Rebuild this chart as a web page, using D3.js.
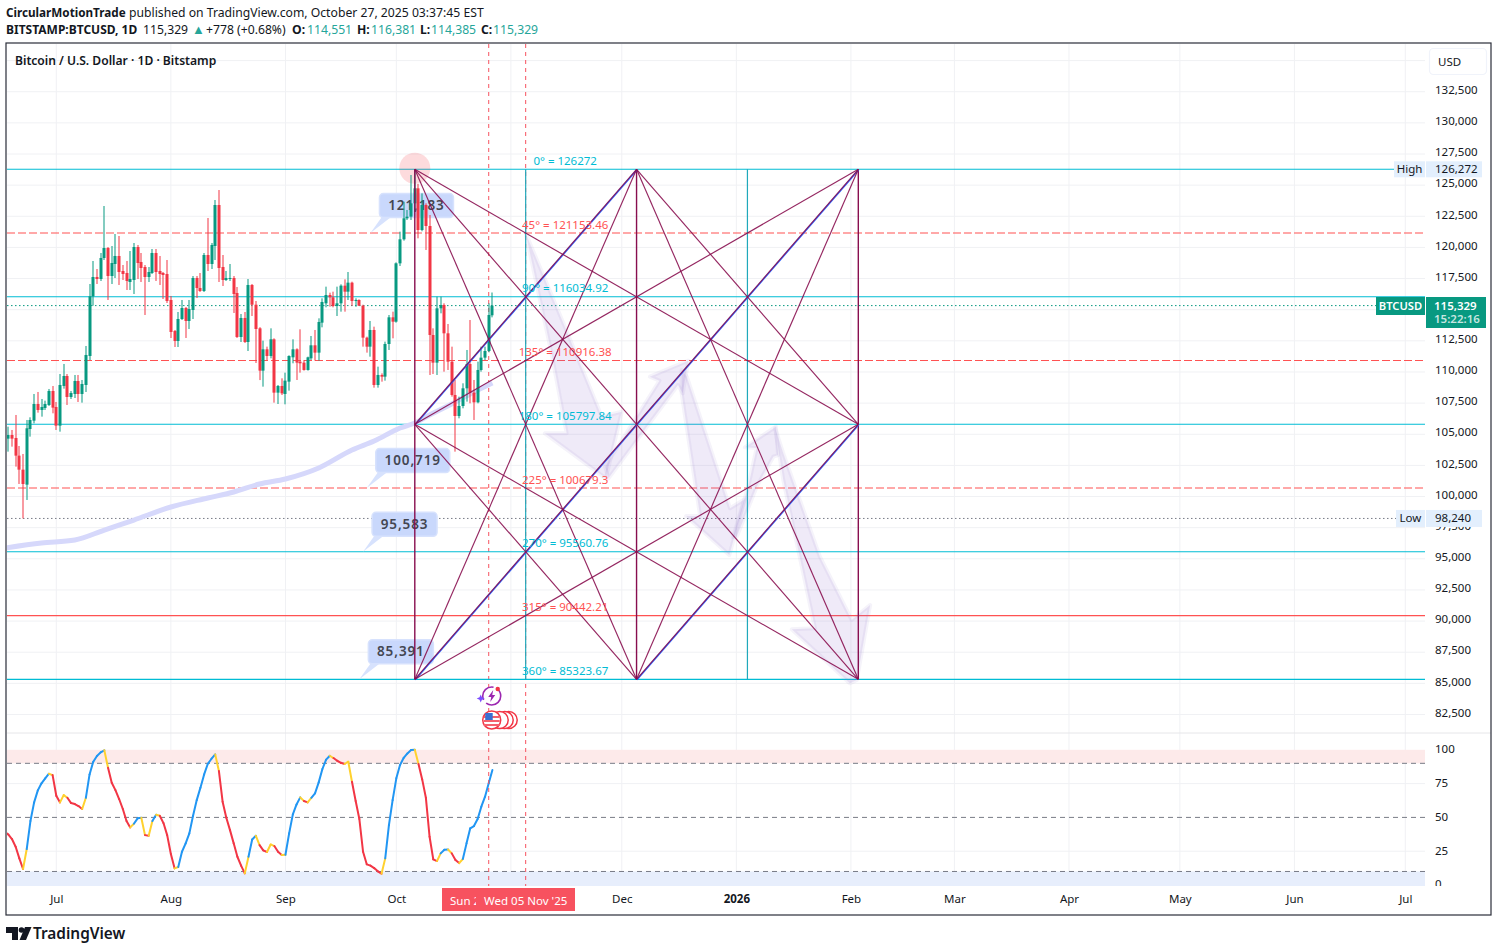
<!DOCTYPE html>
<html lang="en">

<head>
  <meta charset="utf-8">
  <title>BTCUSD Gann Square</title>
  <script src="https://d3js.org/d3.v7.min.js"></script>
  <style>
    html, body { margin: 0; background: #fff; }
    svg { display: block; }
    text { font-family: "Noto Sans", sans-serif; }
  </style>
</head>

<body>
  <svg width="1498" height="952"></svg>
  <script>
    // candles, day by day from Jun 18 2025 to Oct 27 2025
    const candleStart = Date.UTC(2025, 5, 18);
    const openP = [
      104647, 104942, 104700, 103283, 102158, 100954, 105423, 106092, 107430, 106949, 107110, 107350, 108474,
      107190, 105691, 108875, 109678, 107992, 108233, 109277, 108233, 108956, 111284, 116074, 117626, 117465, 119151, 119954, 117706, 118670, 119312, 118108, 117947, 117225, 117385, 120034, 118830, 118429, 117626, 117947, 119553, 118108, 117947, 117867,
      115780, 113291, 112488, 114254, 115137, 114094, 114977, 117546, 116743, 116502, 119392, 118670, 120115, 123406, 118429, 117385, 117465, 117546, 116342, 112809, 114335, 112408, 116984, 115400, 113505, 110107, 111820, 111284, 112622, 108340, 108876,
      108233, 109224, 111177, 111820, 110829, 110749, 110160, 111097, 112141, 111552, 113960, 115512, 116181, 115994, 115298, 115512, 116930, 116448, 117171, 115699, 115780, 115325, 112756, 112033, 113371, 108956, 109759, 109625, 112247, 114388,
      114040, 118723, 120650, 122336, 122470, 123540, 124744, 121399, 123406, 121720, 112970, 110749, 115111, 115378, 113104, 110829, 108153, 106467, 107270, 108688, 110642, 108340, 107564, 110160, 111150, 111685, 114551
    ];
    const highP = [
      105611, 105343, 106547, 104058, 103416, 106146, 106360, 108233, 108394, 107832, 107698, 108635, 108875,
      107591, 109839, 110642, 109839, 108474, 109759, 109759, 109357, 112087, 117064, 118911, 118268, 119553, 123326, 120034, 120115, 121078, 120918, 118589, 118911, 119713, 120356, 120195, 119553, 118589, 118429, 119874, 119874, 119312, 118027, 118991,
      116101, 113371, 114816, 115780, 115217, 115780, 117706, 117706, 117947, 119553, 122363, 120356, 123808, 124610, 119392, 118108, 118670, 117706, 116823, 114655, 114816, 117465, 117064, 115700, 113600, 112515, 112034, 113505, 112702, 108956, 109491,
      109946, 111338, 112622, 111900, 113425, 110963, 111231, 112890, 113372, 114308, 115914, 116850, 116368, 116448, 116850, 117037, 117439, 118027, 117250, 115914, 115833, 115400, 112836, 114094, 113639, 110428, 109892, 112435, 114575, 114843,
      118800, 121265, 123674, 123005, 125815, 126272, 125100, 124343, 123540, 122603, 113505, 116047, 116047, 115512, 113853, 112033, 109357, 108019, 109090, 111766, 114174, 109357, 110829, 112033, 112033, 115512, 116381
    ];
    const lowP = [
      103604, 104005, 102400, 101008, 98240, 99724, 104808, 105878, 106735, 106414, 106949, 107270, 106681,
      105343, 105209, 108661, 107350, 107832, 107912, 107591, 107538, 108394, 110963, 115325, 117064, 117305, 118991, 115780, 117064, 117546, 116984, 117385, 116582, 116582, 116261, 117465, 117225, 114575, 117225, 117867, 117305, 116984, 115860, 115539,
      112729, 112006, 112006, 114174, 112729, 113451, 114254, 115940, 116422, 116422, 118108, 118268, 118991, 117225, 116904, 117305, 117305, 114736, 112729, 112408, 112328, 111685, 114495, 110721, 109350, 108822, 110963, 111097, 107538, 107430, 108153,
      107404, 108501, 110696, 109357, 109946, 110107, 110107, 110963, 110910, 110910, 113585, 115190, 115244, 115191, 114495, 114843, 114843, 115780, 115298, 115244, 115298, 112033, 111552, 111230, 108742, 108742, 109223, 109304, 111766, 112702,
      113960, 118509, 120543, 122202, 122202, 122871, 120730, 121300, 119794, 109759, 109839, 109759, 114709, 110026, 110160, 108019, 103604, 106280, 107083, 107618, 107484, 106146, 107484, 110026, 110963, 111578, 114385
    ];
    const closeP = [
      104942, 104647, 103283, 102158, 101008, 105477, 106146, 107430, 106949, 107190, 107430, 108474, 107136,
      105691, 108956, 109678, 107992, 108314, 109277, 108233, 109036, 111364, 116074, 117626, 117465, 119151, 119954, 117706, 118750, 119312, 118027, 117867, 117305, 117465, 120034, 118750, 118349, 117626, 118027, 119553, 118027, 117867, 117787, 115699,
      113211, 112488, 114254, 115137, 114094, 115057, 117546, 116743, 116502, 119392, 118670, 120195, 123406, 118349, 117385, 117546, 117546, 116261, 112809, 114335, 112408, 116984, 115400, 113451, 110107, 111820, 111284, 112622, 108340, 108876, 108287,
      109304, 111284, 111820, 110749, 110696, 110160, 111177, 112141, 111552, 114014, 115619, 116181, 115994, 115298, 115512, 116930, 116448, 117171, 115699, 115780, 115325, 112756, 112033, 113371, 108956, 109759, 109625, 112247, 114388, 114040,
      118723, 120650, 122336, 122470, 123540, 124744, 121399, 123406, 121720, 112970, 110749, 115111, 115378, 113104, 110829, 108153, 106467, 107270, 108688, 110642, 108340, 107564, 110160, 111150, 111685, 114575, 115329
    ];

    // stochastic line, starts one day before the candles (Jun 17)
    const stochStart = Date.UTC(2025, 5, 17);
    const stochK = [
      39.5, 37.4, 34, 28.3, 19.7, 11.8, 26.6, 47.3, 61.1, 70, 75.2, 78.9, 82.3, 81.3,
      66, 61.1, 66.5, 64.5, 60.6, 59.9, 58.4, 56.2, 64.5, 81.8, 91.2, 95.4, 98.1, 99.6, 86.7, 75.6, 70.2, 63.6, 56.2, 47.3, 42.6, 45.3, 49.3, 49.8, 36.9, 36.4, 47.3, 52, 51.2, 45.8, 36.9,
      22.9, 12.3, 13.3, 24.6, 30.8, 38.2, 51.2, 62.8, 72, 81.8, 89.7, 93.4, 96.6, 84.3, 61.6, 49.8, 40.6, 30.8, 20.9, 14.3, 8.6, 20.9, 33.7, 36.4, 29.5, 25.6, 24.4, 30, 28.8, 24.6, 22.2,
      22.4, 38.2, 52.2, 59.6, 64.8, 62.1, 61.1, 64.5, 67.8, 75.9, 85.8, 92.7, 95.6, 93.9, 91.9, 90.4, 89.5, 91.2, 76.4, 62.1, 48.8, 24.6, 15.3, 14.3, 12.5, 10.1, 8.3, 19.7, 44.3, 62.8,
      78.9, 88.7, 94.1, 97.3, 99.8, 100, 89.5, 78.1, 64.5, 35.7, 19, 17.7, 23.4, 26.1, 26.3, 23.4, 18.5, 16.2, 19.2, 30.8, 41.9, 43.6, 48.8, 57.9, 65.3, 75.2, 85
    ];

    // moving average, sampled
    const maDates = ["2025-06-17", "2025-06-27", "2025-07-06", "2025-07-14", "2025-07-22", "2025-08-01", "2025-08-11", "2025-08-18", "2025-08-25", "2025-09-01", "2025-09-10", "2025-09-19", "2025-09-25", "2025-10-02", "2025-10-06", "2025-10-10", "2025-10-17", "2025-10-22", "2025-10-27"];
    const maValues = [95866, 96268, 96508, 97312, 98114, 99158, 99881, 100362, 101005, 101406, 102289, 103735, 104457, 105501, 105903, 106545, 107588, 108391, 109114];

    // gann square
    const gannAngles = [0, 45, 90, 135, 180, 225, 270, 315, 360];
    const gannLevels = [126272, 121153.46, 116034.92, 110916.38, 105797.84, 100679.3, 95560.76, 90442.21, 85323.67];
    const gannColumns = ["2025-10-06", "2025-11-05", "2025-12-05", "2026-01-04", "2026-02-03"];
    // [column, level] pairs by index into the two lists above
    const gannThin = [
      [[0, 0], [4, 8]], [[0, 0], [4, 4]], [[0, 0], [2, 8]],
      [[0, 8], [4, 4]], [[0, 8], [2, 0]],
      [[4, 0], [0, 4]], [[4, 0], [2, 8]],
      [[4, 8], [0, 4]], [[4, 8], [2, 0]],
      [[0, 4], [2, 8]], [[4, 4], [2, 0]]
    ];
    const gannThick = [[[0, 8], [4, 0]], [[0, 4], [2, 0]], [[2, 8], [4, 4]]];

    // callouts
    const calloutText = ["121,183", "100,719", "95,583", "85,391"];
    const calloutDates = ["2025-09-24", "2025-09-23", "2025-09-22", "2025-09-21"];
    const calloutPrices = [121153, 100679, 95560, 85323];

    // hand drawn arrows: [days after Jul 1 2025, price]
    const arrowShapes = [
      [[127, 121134], [137.6, 113634], [147.6, 106408], [153, 106810], [148.7, 101462], [132.2, 105075], [138.1, 105075], [134, 111499]],
      [[148.5, 102394], [163.2, 109299], [160.6, 109620], [171, 110904], [169.5, 108287], [168.2, 108954], [149.4, 101462]],
      [[169.2, 110158], [170.6, 109620], [182.3, 99054], [186.3, 99776], [182.1, 95304], [170.4, 98436], [174.2, 98436], [169.2, 108287]],
      [[183.1, 96750], [187.2, 100788], [189.5, 103895], [186.3, 103951], [194.7, 105605], [195.3, 103333], [194, 103197], [189.5, 100788], [184.1, 96774]],
      [[194.5, 105477], [196.7, 103470], [206.6, 95168], [215.2, 90086], [220.2, 91290], [216.6, 85268], [214.7, 85003], [199, 89339], [205.3, 89419], [196.7, 101326]]
    ];

    // axes
    const priceGrid = d3.range(82500, 137500, 2500);
    const priceTicks = priceGrid.filter((p) => p !== 115000 && p !== 135000);
    const stochTicks = [100, 75, 50, 25, 0];
    const stochBands = [90, 50, 10];
    const monthTicks = d3.utcMonth.range(new Date(Date.UTC(2025, 6, 1)), new Date(Date.UTC(2026, 6, 2)));
    // Nov sits under the crosshair date tags
    const monthLabels = monthTicks.filter((d) => d.getUTCMonth() !== 10);

    const lastPrice = 115329, highPrice = 126272, lowPrice = 98240;
    const crossDates = ["2025-10-26", "2025-11-05"];

    const upColor = "#089981", downColor = "#f23645";
    const cyan = "#00bcd4", red = "#ff5252", magenta = "#880e4f";
    const gridColor = "#f0f1f4";
    const plotLeft = 7, plotRight = 1425, plotTop = 44, paneSplit = 733, plotBottom = 886;

    const svg = d3.select("svg");
    const day = (s) => new Date(s + "T00:00:00Z");

    const x = d3.scaleUtc()
      .domain([new Date(Date.UTC(2025, 6, 1)), new Date(Date.UTC(2026, 6, 1))])
      .range([56.3, 1405.3]);
    const y = d3.scaleLinear().domain([82500, 132500]).range([714.5, 91.73]);
    const yStoch = d3.scaleLinear().domain([0, 100]).range([885, 749.8]);
    const xDays = (d) => x(new Date(Date.UTC(2025, 6, 1) + d * 864e5));

    const defs = svg.append("defs");
    defs.append("clipPath").attr("id", "plot").append("rect")
      .attr("x", plotLeft).attr("y", plotTop).attr("width", plotRight - plotLeft).attr("height", paneSplit - plotTop);
    defs.append("clipPath").attr("id", "pane").append("rect")
      .attr("x", plotLeft).attr("y", paneSplit).attr("width", plotRight - plotLeft).attr("height", plotBottom - paneSplit);
    defs.append("clipPath").attr("id", "axisClip").append("rect")
      .attr("x", plotRight).attr("y", plotTop).attr("width", 66).attr("height", plotBottom - plotTop);
    defs.append("clipPath").attr("id", "sunClip").append("rect")
      .attr("x", 442).attr("y", 888).attr("width", 34).attr("height", 23);

    // grid
    const grid = svg.append("g").attr("stroke", gridColor).attr("stroke-width", 1);
    grid.selectAll(".v").data(monthTicks).enter().append("line")
      .attr("x1", (d) => x(d)).attr("x2", (d) => x(d)).attr("y1", plotTop).attr("y2", plotBottom);
    grid.selectAll(".h").data(priceGrid).enter().append("line")
      .attr("x1", plotLeft).attr("x2", plotRight).attr("y1", (d) => y(d)).attr("y2", (d) => y(d));
    grid.selectAll(".s").data([75, 25]).enter().append("line")
      .attr("x1", plotLeft).attr("x2", plotRight).attr("y1", (d) => yStoch(d)).attr("y2", (d) => yStoch(d));
    svg.append("line").attr("x1", plotLeft).attr("x2", 1491).attr("y1", paneSplit).attr("y2", paneSplit)
      .attr("stroke", "#e6e6e9");

    // stoch pane
    svg.append("rect").attr("x", plotLeft).attr("width", plotRight - plotLeft)
      .attr("y", yStoch(100)).attr("height", yStoch(90) - yStoch(100)).attr("fill", "#fdeaea");
    svg.append("rect").attr("x", plotLeft).attr("width", plotRight - plotLeft)
      .attr("y", yStoch(10)).attr("height", yStoch(0) - yStoch(10) + 1).attr("fill", "#e7eefc");
    svg.selectAll(".band").data(stochBands).enter().append("line")
      .attr("x1", plotLeft).attr("x2", plotRight).attr("y1", (d) => yStoch(d)).attr("y2", (d) => yStoch(d))
      .attr("stroke", "#787b86").attr("stroke-dasharray", "5 4");

    const stochPts = stochK.map((v, i) => ({ x: x(new Date(stochStart + i * 864e5)), y: yStoch(v), v }));
    const stochSeg = d3.pairs(stochPts).map(([a, b], i, all) => {
      const rising = b.v >= a.v;
      const prevRising = i > 0 ? all[i - 1][1].v >= all[i - 1][0].v : rising;
      return { a, b, color: rising !== prevRising ? "#ffd12e" : rising ? "#2196f3" : "#f23645" };
    });
    svg.append("g").attr("clip-path", "url(#pane)")
      .selectAll("line").data(stochSeg).enter().append("line")
      .attr("x1", (d) => d.a.x).attr("y1", (d) => d.a.y).attr("x2", (d) => d.b.x).attr("y2", (d) => d.b.y)
      .attr("stroke", (d) => d.color).attr("stroke-width", 2).attr("stroke-linecap", "round");

    // crosshair style verticals, the square's cyan column covers the middle of the second one
    svg.selectAll(".cross").data(crossDates).enter().append("line")
      .attr("x1", (d) => x(day(d))).attr("x2", (d) => x(day(d))).attr("y1", plotTop).attr("y2", plotBottom)
      .attr("stroke", "#f7525f").attr("stroke-dasharray", "4 4");

    // main plot
    const plot = svg.append("g").attr("clip-path", "url(#plot)");

    // level lines
    plot.selectAll(".lvl").data(gannLevels).enter().append("line")
      .attr("x1", plotLeft).attr("x2", plotRight).attr("y1", (d) => y(d)).attr("y2", (d) => y(d))
      .attr("stroke", (d, i) => i % 2 === 0 ? cyan : red).attr("stroke-width", 1.1)
      .attr("stroke-dasharray", (d, i) => i % 2 === 1 && i !== 7 ? "8 3" : null);

    // last price and low
    plot.append("line").attr("x1", plotLeft).attr("x2", 1376).attr("y1", y(lastPrice)).attr("y2", y(lastPrice))
      .attr("stroke", upColor).attr("stroke-dasharray", "1.5 2.5");
    plot.append("line").attr("x1", plotLeft).attr("x2", 1396).attr("y1", y(lowPrice)).attr("y2", y(lowPrice))
      .attr("stroke", "#787b86").attr("stroke-dasharray", "1.5 2.5");

    // peak circle
    plot.append("circle").attr("cx", x(day(gannColumns[0]))).attr("cy", y(126272) - 1).attr("r", 15.5)
      .attr("fill", "#f23645").attr("fill-opacity", 0.18);

    // ma
    const maLine = d3.line().x((d) => x(day(d.t))).y((d) => y(d.v)).curve(d3.curveMonotoneX);
    plot.append("path").datum(maDates.map((t, i) => ({ t, v: maValues[i] })))
      .attr("d", maLine).attr("fill", "none").attr("stroke", "#d6d8fb").attr("stroke-width", 5);

    // callouts
    const callouts = plot.selectAll(".callout").data(calloutText).enter().append("g");
    callouts.each(function (txt, i) {
      const tipX = x(day(calloutDates[i])), tipY = y(calloutPrices[i]);
      const w = i < 2 ? 74 : 65;
      const bx = tipX + 9, by = tipY - 39.5;
      const g = d3.select(this).attr("fill", "#c9d8fc").attr("stroke", "#d7e2fd").attr("stroke-width", 1.5);
      g.append("path").attr("d", `M${bx + 2},${by + 24}L${tipX},${tipY}L${bx + 11},${by + 24}Z`).attr("stroke", "none").attr("fill", "#d7e2fd");
      g.append("rect").attr("x", bx).attr("y", by).attr("width", w).attr("height", 24).attr("rx", 4);
      g.append("text").attr("x", bx + w / 2).attr("y", by + 16.5).attr("text-anchor", "middle")
        .attr("fill", "#434651").attr("stroke", "none").attr("font-size", 13.5).attr("font-weight", 600)
        .attr("letter-spacing", 0.9).text(txt);
    });

    // candles
    const candles = openP.map((o, i) => ({ t: new Date(candleStart + i * 864e5), o, h: highP[i], l: lowP[i], c: closeP[i] }));
    const candle = plot.append("g").selectAll("g").data(candles).enter().append("g")
      .attr("fill", (d) => d.c >= d.o ? upColor : downColor);
    candle.append("rect").attr("x", (d) => Math.round(x(d.t)) - 0.5).attr("width", 1)
      .attr("y", (d) => y(d.h)).attr("height", (d) => y(d.l) - y(d.h));
    candle.append("rect").attr("x", (d) => Math.round(x(d.t)) - 1.5).attr("width", 3)
      .attr("y", (d) => y(Math.max(d.o, d.c))).attr("height", (d) => Math.max(1, y(Math.min(d.o, d.c)) - y(Math.max(d.o, d.c))));

    // arrows
    plot.selectAll(".arrow").data(arrowShapes).enter().append("polygon")
      .attr("points", (d) => d.map((p) => [xDays(p[0]), y(p[1])].join(",")).join(" "))
      .attr("fill", "#9575cd").attr("fill-opacity", 0.15)
      .attr("stroke", "#9575cd").attr("stroke-opacity", 0.09).attr("stroke-width", 4).attr("stroke-linejoin", "round");

    // gann verticals
    const colX = (c) => x(day(gannColumns[c]));
    plot.selectAll(".gv").data([0, 1, 2, 3, 4]).enter().append("line")
      .attr("x1", colX).attr("x2", colX).attr("y1", y(gannLevels[0])).attr("y2", y(gannLevels[8]))
      .attr("stroke", (d) => d % 2 === 0 ? magenta : "#1fa9bb")
      .attr("stroke-width", (d) => d % 2 === 0 ? 1.4 : 1.2);

    const gannPos = ([c, l]) => [colX(c), y(gannLevels[l])];
    plot.selectAll(".blue").data(gannThick).enter().append("line")
      .attr("x1", (d) => gannPos(d[0])[0] + 0.4).attr("y1", (d) => gannPos(d[0])[1] + 0.4)
      .attr("x2", (d) => gannPos(d[1])[0] + 0.4).attr("y2", (d) => gannPos(d[1])[1] + 0.4)
      .attr("stroke", "#2962ff").attr("stroke-width", 1.5);
    plot.selectAll(".diag").data(gannThin.concat(gannThick)).enter().append("line")
      .attr("x1", (d) => gannPos(d[0])[0]).attr("y1", (d) => gannPos(d[0])[1])
      .attr("x2", (d) => gannPos(d[1])[0]).attr("y2", (d) => gannPos(d[1])[1])
      .attr("stroke", magenta).attr("stroke-opacity", 0.9).attr("stroke-width", 1.15);

    // level labels
    plot.selectAll(".lvlText").data(gannLevels).enter().append("text")
      .attr("x", colX(1) + 39.5).attr("y", (d) => y(d) - 4.5).attr("text-anchor", "middle")
      .attr("font-size", 11.5).attr("fill", (d, i) => i % 2 === 0 ? cyan : red)
      .text((d, i) => `${gannAngles[i]}° = ${d}`);

    // marks under the chart
    const iconX = x(day(crossDates[0])) + 3;
    const icons = plot.append("g").attr("transform", `translate(${iconX},696)`);
    icons.append("circle").attr("r", 9).attr("fill", "#fff").attr("stroke", "#9c27b0").attr("stroke-width", 1.6)
      .attr("stroke-dasharray", "20 4");
    icons.append("path").attr("d", "M1.5,-6L-3.5,1H-0.5L-1.5,6L3.5,-1H0.5Z").attr("fill", "#9c27b0");
    icons.append("circle").attr("cx", 6).attr("cy", -7).attr("r", 2.2).attr("fill", "#f23645");
    icons.append("path").attr("d", "M-11,-1.5l1.2,2.8 2.8,1.2 -2.8,1.2 -1.2,2.8 -1.2,-2.8 -2.8,-1.2 2.8,-1.2Z").attr("fill", "#7c4dff");

    const flags = plot.append("g").attr("transform", `translate(${iconX},720)`);
    [17, 13, 8].forEach((dx) => flags.append("circle").attr("cx", dx).attr("r", 8.5)
      .attr("fill", "#fff").attr("stroke", "#f23645").attr("stroke-width", 1.5));
    flags.append("circle").attr("r", 9).attr("fill", "#fff").attr("stroke", "#f23645").attr("stroke-width", 1.5);
    [-4, 0, 4].forEach((dy) => flags.append("rect").attr("x", -8).attr("y", dy).attr("width", 16).attr("height", 2).attr("fill", "#f4606c"));
    flags.append("rect").attr("x", -6.5).attr("y", -7).attr("width", 7.5).attr("height", 7).attr("fill", "#3b6fd1");

    // price axis
    const yAxis = d3.axisRight(y).tickValues(priceTicks).tickSize(0).tickPadding(10).tickFormat(d3.format(","));
    const yG = svg.append("g").attr("transform", `translate(${plotRight},0)`).call(yAxis);
    yG.select(".domain").remove();
    yG.selectAll("text").attr("font-size", 11.5).attr("fill", "#131722").attr("dy", "0.15em");

    const sAxis = d3.axisRight(yStoch).tickValues(stochTicks).tickSize(0).tickPadding(10);
    const sG = svg.append("g").attr("clip-path", "url(#axisClip)").append("g").attr("transform", `translate(${plotRight},0)`).call(sAxis);
    sG.select(".domain").remove();
    sG.selectAll("text").attr("font-size", 11.5).attr("fill", "#131722").attr("dy", "0.25em");

    // time axis
    const xAxis = d3.axisBottom(x).tickValues(monthLabels).tickSize(0).tickPadding(0)
      .tickFormat((d) => d.getUTCMonth() === 0 ? d3.utcFormat("%Y")(d) : d3.utcFormat("%b")(d));
    const xG = svg.append("g").attr("transform", "translate(0,895)").call(xAxis);
    xG.select(".domain").remove();
    xG.selectAll("text").attr("font-size", 11.5).attr("fill", "#131722")
      .attr("font-weight", (d) => d.getUTCMonth() === 0 ? 700 : 400);

    // crosshair date tags: the later one hides most of the earlier one
    svg.append("rect").attr("x", 442).attr("y", 888).attr("width", 40).attr("height", 23).attr("fill", "#f7525f");
    svg.append("text").attr("x", 450).attr("y", 905).attr("clip-path", "url(#sunClip)")
      .attr("font-size", 11.5).attr("fill", "#fff").text("Sun 2");
    svg.append("rect").attr("x", 476).attr("y", 888).attr("width", 99).attr("height", 23).attr("fill", "#f7525f");
    svg.append("text").attr("x", x(day(crossDates[1])).toFixed(1)).attr("y", 905).attr("text-anchor", "middle")
      .attr("font-size", 11.5).attr("fill", "#fff").text("Wed 05 Nov '25");

    // High / Low / last price tags
    const sideTag = (bx, w, yc, h, fill) => svg.append("rect").attr("x", bx).attr("y", yc - h / 2).attr("width", w).attr("height", h).attr("fill", fill);
    const sideText = (tx, yc, txt, anchor) => svg.append("text").attr("x", tx).attr("y", yc + 4)
      .attr("font-size", 11.5).attr("fill", "#131722").attr("text-anchor", anchor || "start").text(txt);

    sideTag(1394, 31, y(highPrice), 16, "#e3effd"); sideTag(1426, 56, y(highPrice), 16, "#e3effd");
    sideText(1409.5, y(highPrice), "High", "middle");
    sideText(1435, y(highPrice), d3.format(",")(highPrice));
    sideTag(1396, 29, y(lowPrice), 17, "#e3effd"); sideTag(1426, 56, y(lowPrice), 17, "#e3effd");
    sideText(1410.5, y(lowPrice), "Low", "middle");
    sideText(1435, y(lowPrice), d3.format(",")(lowPrice));

    svg.append("rect").attr("x", 1376).attr("y", 297).attr("width", 49).attr("height", 18).attr("fill", upColor);
    svg.append("rect").attr("x", 1426).attr("y", 297).attr("width", 60).attr("height", 31).attr("fill", upColor);
    svg.append("text").attr("x", 1400.5).attr("y", 310).attr("text-anchor", "middle").attr("font-size", 11.2)
      .attr("font-weight", 600).attr("fill", "#fff").text("BTCUSD");
    svg.append("text").attr("x", 1434).attr("y", 309.5).attr("font-size", 11.5).attr("font-weight", 600)
      .attr("fill", "#fff").text(d3.format(",")(lastPrice));
    svg.append("text").attr("x", 1434).attr("y", 323).attr("font-size", 11.5).attr("font-weight", 600)
      .attr("fill", "#c6e6e0").text("15:22:16");

    svg.append("rect").attr("x", 1429.5).attr("y", 48.5).attr("width", 57).attr("height", 26).attr("rx", 4)
      .attr("fill", "#fff").attr("stroke", "#f0f3fa").attr("stroke-width", 1.2);
    svg.append("text").attr("x", 1438).attr("y", 65.5).attr("font-size", 11.5).attr("fill", "#131722").text("USD");

    // frame
    svg.append("rect").attr("x", 6).attr("y", 43).attr("width", 1485).attr("height", 872)
      .attr("fill", "none").attr("stroke", "#2a2e39").attr("stroke-width", 1.2);

    // titles
    svg.append("text").attr("x", 15).attr("y", 64.5).attr("font-size", 12.1).attr("font-weight", 600)
      .attr("fill", "#131722").text("Bitcoin / U.S. Dollar · 1D · Bitstamp");

    const headText = (tx, ty, txt, color, weight, size) => svg.append("text").attr("x", tx).attr("y", ty)
      .attr("font-size", size || 12.2).attr("fill", color || "#131722").attr("font-weight", weight || 400).text(txt);
    const teal = "#26a69a";
    headText(6, 17, "CircularMotionTrade", null, 700, 11.7);
    headText(129, 17, "published on TradingView.com, October 27, 2025 03:37:45 EST");
    headText(6, 34, "BITSTAMP:BTCUSD, 1D", null, 700, 12);
    headText(143, 34, "115,329");
    headText(192, 34, "▲", teal, 400, 13);
    headText(206, 34, "+778 (+0.68%)");
    headText(292, 34, "O:", null, 700);
    headText(307, 34, "114,551", teal);
    headText(357, 34, "H:", null, 700);
    headText(371, 34, "116,381", teal);
    headText(420, 34, "L:", null, 700);
    headText(431, 34, "114,385", teal);
    headText(481, 34, "C:", null, 700);
    headText(493, 34, "115,329", teal);

    // footer logo
    const logo = svg.append("g").attr("fill", "#131722");
    logo.append("path").attr("d", "M6,927H18V940H12V933H6Z");
    logo.append("circle").attr("cx", 21.5).attr("cy", 930).attr("r", 2.8);
    logo.append("path").attr("d", "M25,927H31.5L26,940H19.5Z");
    svg.append("text").attr("x", 33).attr("y", 939).attr("font-size", 15.4).attr("font-weight", 600)
      .attr("fill", "#131722").text("TradingView");
  </script>
</body>

</html>
